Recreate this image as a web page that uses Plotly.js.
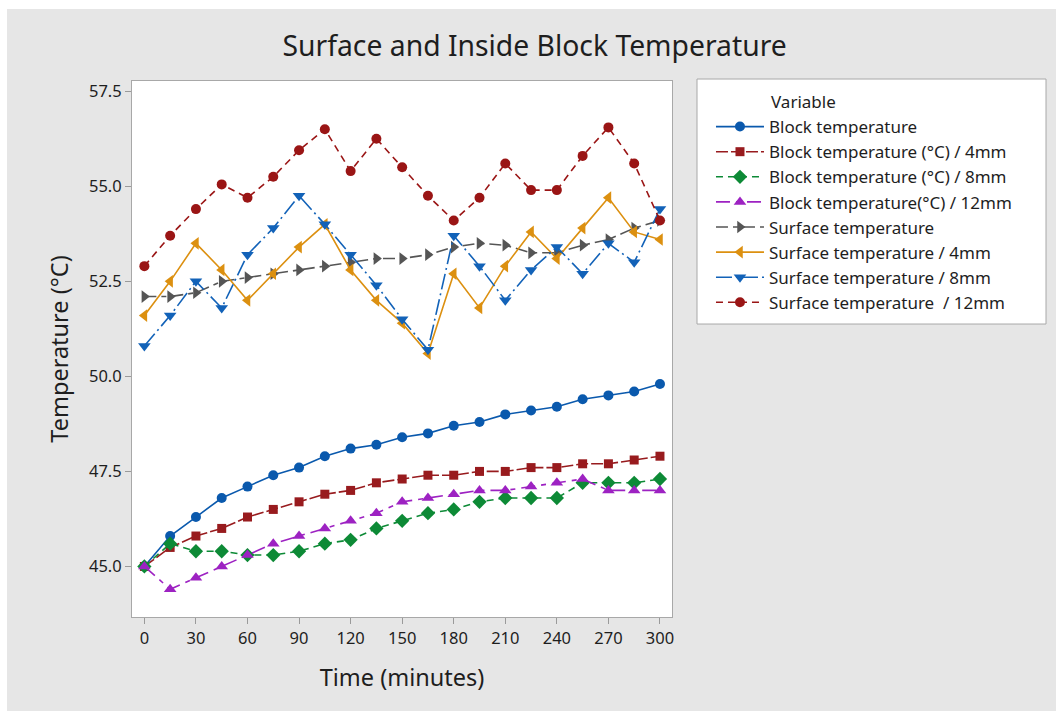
<!DOCTYPE html>
<html>
<head>
<meta charset="utf-8">
<script src="https://cdn.plot.ly/plotly-3.0.1.min.js"></script>
<style>
  html, body { margin: 0; padding: 0; background: #ffffff; }
  #chart { position: absolute; left: 7px; top: 9px; width: 1049px; height: 702px; }
</style>
</head>
<body>
<div id="chart"></div>
<script>
// ---- data ----
const time = [0, 15, 30, 45, 60, 75, 90, 105, 120, 135, 150, 165, 180, 195, 210, 225, 240, 255, 270, 285, 300];

const blockTemp   = [45.0, 45.8, 46.3, 46.8, 47.1, 47.4, 47.6, 47.9, 48.1, 48.2, 48.4, 48.5, 48.7, 48.8, 49.0, 49.1, 49.2, 49.4, 49.5, 49.6, 49.8];
const block4mm    = [45.0, 45.5, 45.8, 46.0, 46.3, 46.5, 46.7, 46.9, 47.0, 47.2, 47.3, 47.4, 47.4, 47.5, 47.5, 47.6, 47.6, 47.7, 47.7, 47.8, 47.9];
const block8mm    = [45.0, 45.6, 45.4, 45.4, 45.3, 45.3, 45.4, 45.6, 45.7, 46.0, 46.2, 46.4, 46.5, 46.7, 46.8, 46.8, 46.8, 47.2, 47.2, 47.2, 47.3];
const block12mm   = [45.0, 44.4, 44.7, 45.0, 45.3, 45.6, 45.8, 46.0, 46.2, 46.4, 46.7, 46.8, 46.9, 47.0, 47.0, 47.1, 47.2, 47.3, 47.0, 47.0, 47.0];
const surfaceTemp = [52.1, 52.1, 52.2, 52.5, 52.6, 52.7, 52.8, 52.9, 53.0, 53.1, 53.1, 53.2, 53.4, 53.5, 53.45, 53.25, 53.25, 53.45, 53.6, 53.9, 54.1];
const surface4mm  = [51.6, 52.5, 53.5, 52.8, 52.0, 52.7, 53.4, 54.0, 52.8, 52.0, 51.4, 50.6, 52.7, 51.8, 52.9, 53.8, 53.1, 53.9, 54.7, 53.8, 53.6];
const surface8mm  = [50.8, 51.6, 52.5, 51.8, 53.2, 53.9, 54.75, 54.0, 53.2, 52.4, 51.5, 50.7, 53.7, 52.9, 52.0, 52.8, 53.4, 52.7, 53.5, 53.0, 54.4];
const surface12mm = [52.9, 53.7, 54.4, 55.05, 54.7, 55.25, 55.95, 56.5, 55.4, 56.25, 55.5, 54.75, 54.1, 54.7, 55.6, 54.9, 54.9, 55.8, 56.55, 55.6, 54.1];

const seriesNames = [
  "Block temperature",
  "Block temperature (°C) / 4mm",
  "Block temperature (°C) / 8mm",
  "Block temperature(°C) / 12mm",
  "Surface temperature",
  "Surface temperature / 4mm",
  "Surface temperature / 8mm",
  "Surface temperature  / 12mm"
];
const legendTitle = "Variable";
const xTicks = [0, 30, 60, 90, 120, 150, 180, 210, 240, 270, 300];
const yTicks = [45.0, 47.5, 50.0, 52.5, 55.0, 57.5];

// ---- styles ----
const seriesValues = [blockTemp, block4mm, block8mm, block12mm, surfaceTemp, surface4mm, surface8mm, surface12mm];
const styles = [
  {color: '#0a59ad', symbol: 'circle',         size: 10, dash: 'solid'},
  {color: '#981b1e', symbol: 'square',         size: 9,  dash: '12px,3px'},
  {color: '#0d8a36', symbol: 'diamond',        size: 11, dash: '7px,5px'},
  {color: '#9d22c2', symbol: 'triangle-up',    size: 11, dash: '14px,6px,5px,6px'},
  {color: '#555555', symbol: 'triangle-right', size: 11, dash: '12px,5px,5px,5px'},
  {color: '#dc9010', symbol: 'triangle-left',  size: 11, dash: 'solid'},
  {color: '#1262b8', symbol: 'triangle-down',  size: 11, dash: '16px,4px,2px,4px'},
  {color: '#9a1515', symbol: 'circle',         size: 10, dash: '7px,5px'}
];

const traces = seriesValues.map((vals, i) => ({
  type: 'scatter',
  mode: 'lines+markers',
  x: time,
  y: vals,
  name: seriesNames[i],
  legendgroup: 'g' + i,
  line: {color: styles[i].color, width: 1.6, dash: styles[i].dash},
  marker: {color: styles[i].color, symbol: styles[i].symbol, size: styles[i].size, line: {width: 0}}
}));

const fontFam = '"Noto Sans", "Open Sans", sans-serif';
const txt = '#1e1e1e';

const layout = {
  width: 1049,
  height: 702,
  paper_bgcolor: '#e6e6e6',
  plot_bgcolor: '#ffffff',
  margin: {l: 125, r: 384, t: 72, b: 94},
  font: {family: fontFam, color: txt, size: 16},
  title: {
    text: 'Surface and Inside Block Temperature',
    font: {family: fontFam, size: 28.3, color: txt},
    xref: 'container', x: 0.503, xanchor: 'center',
    yref: 'container', y: 0.947, yanchor: 'middle'
  },
  xaxis: {
    range: [-7.2, 307],
    tickvals: xTicks,
    ticktext: xTicks.map(String),
    ticks: 'outside', ticklen: 6, tickcolor: '#9a9a9a', tickwidth: 1,
    showline: true, mirror: true, linecolor: '#a8a8a8', linewidth: 1,
    showgrid: false, zeroline: false,
    tickfont: {size: 16.5, color: txt},
    title: {text: 'Time (minutes)', font: {size: 23.5, color: txt}, standoff: 21}
  },
  yaxis: {
    range: [43.67, 57.77],
    tickvals: yTicks,
    ticktext: yTicks.map(v => v.toFixed(1)),
    ticks: 'outside', ticklen: 6, tickcolor: '#9a9a9a', tickwidth: 1,
    showline: true, mirror: true, linecolor: '#a8a8a8', linewidth: 1,
    showgrid: false, zeroline: false,
    tickfont: {size: 16.5, color: txt},
    title: {text: 'Temperature (°C)', font: {size: 23.5, color: txt}, standoff: 13}
  },
  showlegend: true,
  legend: {
    xref: 'container', x: 0.6711, xanchor: 'left',
    yref: 'container', y: 0.8575, yanchor: 'top',
    bgcolor: 'rgba(0,0,0,0)', borderwidth: 0,
    traceorder: 'grouped', tracegroupgap: 0,
    itemwidth: 48,
    font: {size: 17, color: txt}
  },
  annotations: [{
    text: legendTitle, xref: 'paper', yref: 'paper',
    x: 1.1796, y: 0.9625, xanchor: 'left', yanchor: 'middle',
    showarrow: false, font: {size: 17, color: txt}
  }],
  shapes: [{
    type: 'rect', xref: 'paper', yref: 'paper',
    x0: 1.0463, x1: 1.6926, y0: 0.5466, y1: 1.0037,
    fillcolor: '#ffffff', line: {color: '#a8a8a8', width: 1}, layer: 'below'
  }]
};

Plotly.newPlot('chart', traces, layout, {displayModeBar: false, staticPlot: true});
</script>
</body>
</html>
